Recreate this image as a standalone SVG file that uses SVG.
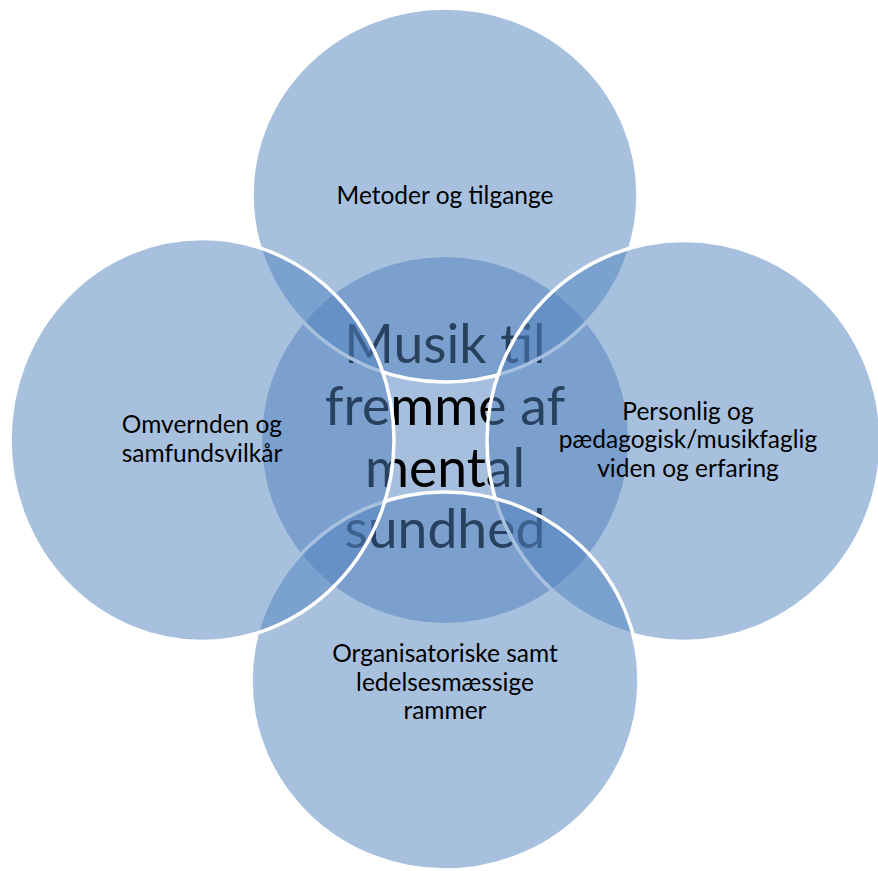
<svg xmlns="http://www.w3.org/2000/svg" width="878" height="871" viewBox="0 0 878 871">
<style>
.outer{fill:#4F81BD;fill-opacity:0.5;stroke:#FFFFFF;stroke-width:3.5}
.center{fill:#A7BFDE;stroke:none}
.lbl{font-family:Lato,"Open Sans","Liberation Sans",sans-serif;font-size:24.5px;fill:#000000;text-anchor:middle}
.big{font-family:Lato,"Open Sans","Liberation Sans",sans-serif;font-size:53.5px;fill:#000000;text-anchor:middle}
</style>
<rect width="878" height="871" fill="#FFFFFF"/>
<g id="node-center">
<circle class="center" cx="445" cy="440" r="183"/>
<text class="big" x="445"><tspan x="445" y="363">Musik til</tspan><tspan x="445" y="425">fremme af</tspan><tspan x="445" y="487">mental</tspan><tspan x="445" y="548">sundhed</tspan></text>
</g>
<g id="node-top">
<ellipse class="outer" cx="445" cy="195" rx="193" ry="187"/>
<text class="lbl" x="445" y="204">Metoder og tilgange</text>
</g>
<g id="node-right">
<ellipse class="outer" cx="684" cy="441" rx="197" ry="200.5"/>
<text class="lbl"><tspan x="688" y="420">Personlig og</tspan><tspan x="688" y="448">pædagogisk/musikfaglig</tspan><tspan x="688" y="477">viden og erfaring</tspan></text>
</g>
<g id="node-bottom">
<ellipse class="outer" cx="445" cy="681" rx="194" ry="189"/>
<text class="lbl"><tspan x="445" y="662">Organisatoriske samt</tspan><tspan x="445" y="691">ledelsesmæssige</tspan><tspan x="445" y="719">rammer</tspan></text>
</g>
<g id="node-left">
<ellipse class="outer" cx="202" cy="440" rx="192" ry="201.5"/>
<text class="lbl"><tspan x="202" y="433">Omvernden og</tspan><tspan x="202" y="462">samfundsvilkår</tspan></text>
</g>
</svg>
